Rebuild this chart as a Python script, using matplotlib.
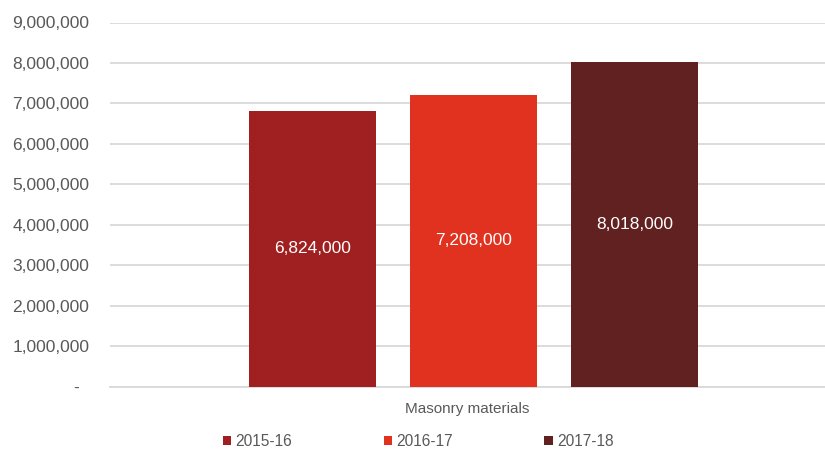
import matplotlib
matplotlib.use("Agg")
import matplotlib.pyplot as plt
from matplotlib.ticker import FuncFormatter, MultipleLocator
from matplotlib.patches import Patch

category = "Masonry materials"
years = ["2015-16", "2016-17", "2017-18"]
values = [6824000, 7208000, 8018000]
colors = ["#A01F20", "#E0321E", "#622121"]

plt.rcParams["font.family"] = ["Liberation Sans", "DejaVu Sans"]
text_color = "#595959"
grid_color = "#D9D9D9"

fig = plt.figure(figsize=(8.25, 4.49), dpi=100)
ax = fig.add_axes([110 / 825, 1 - 386.5 / 449, 715 / 825, (386.5 - 22.5) / 449])

width = 127 / 161
positions = [-1, 0, 1]
bars = ax.bar(positions, values, width=width, color=colors, zorder=3)
for b, v in zip(bars, values):
    ax.text(b.get_x() + b.get_width() / 2, v / 2, f"{v:,.0f}",
            ha="center", va="center", color="white", fontsize=12.5, zorder=4)

ax.set_ylim(0, 9000000)
left = (110 - 473.5) / 161
right = (825 - 473.5) / 161
ax.set_xlim(left, right)
ax.yaxis.set_major_locator(MultipleLocator(1000000))
ax.yaxis.set_major_formatter(FuncFormatter(lambda y, _: "-  " if y == 0 else f"{y:,.0f}"))
ax.tick_params(axis="y", length=0, pad=15, labelsize=12.5, labelcolor=text_color)

ax.set_xticks([(left + right) / 2])
ax.set_xticklabels([category])
ax.tick_params(axis="x", length=0, pad=11, labelsize=11, labelcolor=text_color)

ax.grid(axis="y", color=grid_color, linewidth=1.3, zorder=0)
for s in ["top", "right", "left"]:
    ax.spines[s].set_visible(False)
ax.spines["bottom"].set_color(grid_color)
ax.spines["bottom"].set_linewidth(1.3)
ax.spines["bottom"].set_zorder(2)

handles = [Patch(facecolor=c, edgecolor="none") for c in colors]
fig.legend(handles, years, loc="center", bbox_to_anchor=(418 / 825, 1 - 441.5 / 449),
           ncol=3, frameon=False, fontsize=11.2, labelcolor=text_color,
           handlelength=0.55, handleheight=0.55, handletextpad=0.25,
           columnspacing=5.9, borderpad=0)

fig.savefig("out.png", dpi=100)
